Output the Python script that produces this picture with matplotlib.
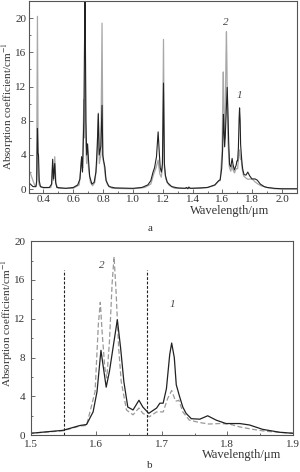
import numpy as np
import matplotlib
matplotlib.use("Agg")
import matplotlib.pyplot as plt
from matplotlib.ticker import MultipleLocator

plt.rcParams['font.family'] = ['Liberation Serif', 'DejaVu Serif']
plt.rcParams['mathtext.fontset'] = 'stix'

# curve 1 (dark), full range 0.3-2.1 um
wl_1 = [0.30, 0.33, 0.35, 0.355, 0.360, 0.364, 0.367, 0.372, 0.38, 0.40, 0.44,
        0.455, 0.462, 0.468, 0.476, 0.482, 0.49, 0.55, 0.60, 0.63, 0.645, 0.656,
        0.662, 0.671, 0.679, 0.685, 0.690, 0.696, 0.702, 0.71, 0.725, 0.74, 0.752,
        0.761, 0.768, 0.774, 0.785, 0.793, 0.798, 0.805, 0.812, 0.82, 0.84, 0.88,
        1.00, 1.06, 1.10, 1.12, 1.135, 1.145, 1.158, 1.169, 1.176, 1.183, 1.191,
        1.198, 1.205, 1.211, 1.218, 1.23, 1.26, 1.30, 1.35, 1.36, 1.368, 1.375,
        1.385, 1.45, 1.50, 1.549, 1.575, 1.585, 1.595, 1.601, 1.607, 1.610, 1.615,
        1.620, 1.627, 1.632, 1.637, 1.642, 1.648, 1.656, 1.665, 1.671, 1.680,
        1.692, 1.697, 1.702, 1.707, 1.712, 1.715, 1.719, 1.722, 1.727, 1.732,
        1.737, 1.745, 1.758, 1.770, 1.783, 1.798, 1.819, 1.834, 1.854, 1.880,
        1.900, 1.95, 2.00, 2.10]
ab_1 = [0.8, 0.3, 0.3, 1.0, 7.1, 4.2, 4.0, 1.0, 0.3, 0.2, 0.2,
        0.6, 3.5, 1.2, 3.0, 0.8, 0.2, 0.1, 0.2, 0.5, 1.2, 3.8,
        2.0, 8.0, 24.0, 8.0, 4.0, 5.3, 3.5, 1.5, 0.6, 0.8, 2.0,
        5.0, 8.8, 4.0, 5.0, 9.8, 4.0, 3.2, 2.6, 1.0, 0.3, 0.15,
        0.1, 0.2, 0.5, 1.0, 2.0, 2.5, 3.8, 6.7, 4.5, 2.5, 2.0,
        3.0, 12.4, 3.0, 1.6, 0.8, 0.3, 0.15, 0.1, 0.2, 0.05, 0.25,
        0.1, 0.15, 0.2, 0.5, 1.0, 1.1, 2.4, 4.5, 8.75, 7.3, 4.95,
        6.6, 9.7, 11.9, 9.0, 5.5, 2.9, 2.6, 3.6, 2.9, 2.25,
        2.8, 3.3, 3.3, 4.8, 8.3, 9.5, 8.0, 5.2, 4.0, 2.9,
        2.25, 1.7, 1.65, 2.0, 1.55, 1.2, 1.2, 1.05, 0.6, 0.3,
        0.2, 0.1, 0.05, 0.05]

# curve 2 (light)
wl_2 = [0.30, 0.31, 0.33, 0.345, 0.354, 0.360, 0.365, 0.37, 0.38, 0.40, 0.45,
        0.456, 0.462, 0.468, 0.476, 0.484, 0.50, 0.60, 0.64, 0.656, 0.663,
        0.671, 0.675, 0.679, 0.684, 0.690, 0.696, 0.702, 0.715, 0.73, 0.745,
        0.758, 0.768, 0.775, 0.785, 0.793, 0.799, 0.806, 0.815, 0.83, 0.86,
        1.00, 1.08, 1.12, 1.14, 1.155, 1.169, 1.18, 1.19, 1.198, 1.205, 1.211,
        1.22, 1.24, 1.28, 1.45, 1.50, 1.549, 1.575, 1.585, 1.598, 1.603, 1.606,
        1.609, 1.613, 1.616, 1.620, 1.624, 1.627, 1.630, 1.634, 1.638, 1.646,
        1.656, 1.665, 1.671, 1.681, 1.692, 1.702, 1.709, 1.715, 1.721, 1.726,
        1.732, 1.742, 1.758, 1.772, 1.788, 1.803, 1.819, 1.839, 1.859, 1.900,
        1.95, 2.00, 2.10]
ab_2 = [2.1, 2.0, 1.0, 0.3, 0.5, 20.2, 2.0, 0.6, 0.3, 0.15, 0.2,
        0.6, 2.8, 1.0, 3.8, 0.6, 0.1, 0.1, 0.5, 3.5, 2.5,
        10.5, 6.0, 20.5, 5.0, 3.0, 4.5, 2.5, 0.8, 0.4, 0.8,
        3.0, 8.9, 3.0, 4.0, 19.4, 3.5, 3.0, 1.5, 0.5, 0.1,
        0.05, 0.2, 0.6, 1.8, 2.5, 3.4, 1.8, 1.4, 2.5, 17.5, 2.5,
        1.2, 0.5, 0.1, 0.1, 0.2, 0.45, 0.95, 1.0, 4.5, 11.4, 13.7,
        10.4, 6.9, 5.9, 9.7, 15.6, 18.4, 14.9, 9.0, 5.5, 2.6,
        2.1, 2.8, 2.25, 1.9, 2.4, 2.4, 3.8, 4.6, 3.5, 3.6,
        2.4, 1.55, 1.3, 1.15, 1.2, 1.15, 0.85, 0.6, 0.4, 0.2,
        0.05, 0.03, 0.03]

band_edges = [1.55, 1.677]
band_top = 17.0

dark = '#222222'
light = '#a8a8a8'
spine_c = '#555555'

fig = plt.figure(figsize=(3.0, 4.72), dpi=100)
ax_a = fig.add_axes([0.095, 0.591, 0.895, 0.407])
ax_b = fig.add_axes([0.103, 0.078, 0.873, 0.411])


def style_axes(ax):
    for s in ax.spines.values():
        s.set_color(spine_c)
        s.set_linewidth(0.8)
    ax.tick_params(which='both', direction='in', colors=spine_c, labelcolor='#333333',
                   labelsize=8, width=0.6)
    ax.tick_params(which='major', length=3, pad=1.5)
    ax.tick_params(which='minor', length=1.5)


# panel a
ax_a.plot(wl_2, ab_2, color=light, lw=0.9)
ax_a.plot(wl_1, ab_1, color=dark, lw=0.8)
ax_a.set_xlim(0.3, 2.1)
ax_a.set_ylim(-0.45, 22)
ax_a.xaxis.set_minor_locator(MultipleLocator(0.1))
ax_a.yaxis.set_major_locator(MultipleLocator(4))
ax_a.yaxis.set_minor_locator(MultipleLocator(2))
ax_a.set_xticks([0.4, 0.6, 0.8, 1.0, 1.2, 1.4, 1.6, 1.8, 2.0])
style_axes(ax_a)
ax_a.text(1.622, 19.2, '2', fontsize=8, style='italic', color='#444444', ha='center')
ax_a.text(1.716, 10.6, '1', fontsize=8, style='italic', color='#444444', ha='center')

# panel b
ax_b.plot(wl_2, ab_2, color='#999999', lw=0.9, ls=(0, (4, 2)))
ax_b.plot(wl_1, ab_1, color=dark, lw=0.9)
for x in band_edges:
    ax_b.plot([x, x], [0, band_top], color='#222222', lw=0.8, ls=(0, (2.5, 1.5)))
ax_b.set_xlim(1.5, 1.9)
ax_b.set_ylim(0, 20)
ax_b.xaxis.set_major_locator(MultipleLocator(0.1))
ax_b.xaxis.set_minor_locator(MultipleLocator(0.05))
ax_b.yaxis.set_major_locator(MultipleLocator(4))
ax_b.yaxis.set_minor_locator(MultipleLocator(2))
style_axes(ax_b)
ax_b.tick_params(axis='y', which='major', pad=4)
ax_b.tick_params(axis='x', which='major', pad=3.5)
ax_b.text(1.609, 17.2, '2', fontsize=8, style='italic', color='#444444', ha='center')
ax_b.text(1.716, 13.2, '1', fontsize=8, style='italic', color='#444444', ha='center')

# axis titles and panel letters
ylab = 'Absorption coefficient/cm$^{-1}$'
fig.text(0.027, 1 - 106 / 472, ylab, rotation=90, fontsize=8, ha='center', va='center', color='#333333')
fig.text(0.022, 1 - 323 / 472, ylab, rotation=90, fontsize=8, ha='center', va='center', color='#333333')
fig.text(230 / 300, 1 - 211 / 472, 'Wavelength/μm', fontsize=9, ha='center', va='center', color='#333333')
fig.text(242 / 300, 1 - 455 / 472, 'Wavelength/μm', fontsize=9, ha='center', va='center', color='#333333')
fig.text(0.5, 1 - 229 / 472, 'a', fontsize=8, ha='center', va='center', color='#333333')
fig.text(0.5, 1 - 466 / 472, 'b', fontsize=8, ha='center', va='center', color='#333333')

fig.savefig('out.png', dpi=100)
